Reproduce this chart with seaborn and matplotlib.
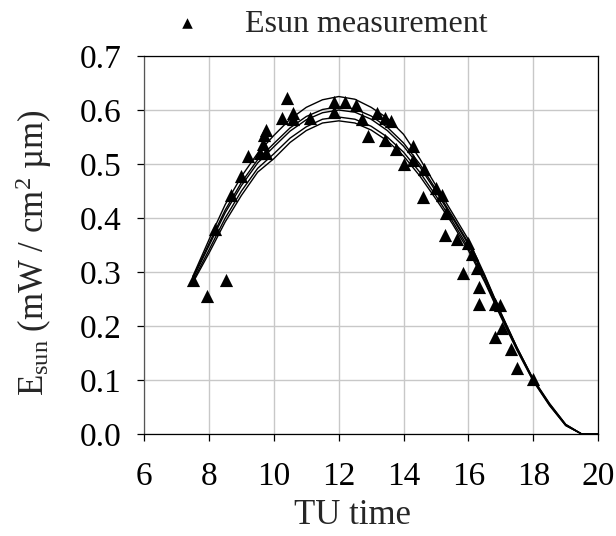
import pandas as pd
import seaborn as sns
import matplotlib.pyplot as plt

# model curves (half-hour steps, TU time)
hours = [7.5, 8, 8.5, 9, 9.5, 10, 10.5, 11, 11.5, 12, 12.5, 13, 13.5,
         14, 14.5, 15, 15.5, 16, 16.5, 17, 17.5, 18, 18.5, 19, 19.5, 20]
model_1 = [0.292, 0.360, 0.425, 0.477, 0.520, 0.553, 0.583, 0.605, 0.619, 0.625,
           0.620, 0.605, 0.585, 0.555, 0.510, 0.460, 0.410, 0.360, 0.295, 0.225,
           0.160, 0.102, 0.057, 0.018, 0.0, 0.0]
model_2 = [0.290, 0.353, 0.415, 0.466, 0.508, 0.538, 0.567, 0.588, 0.601, 0.606,
           0.602, 0.589, 0.568, 0.539, 0.500, 0.453, 0.404, 0.354, 0.293, 0.224,
           0.160, 0.101, 0.056, 0.018, 0.0, 0.0]
model_3 = [0.287, 0.349, 0.410, 0.460, 0.502, 0.532, 0.561, 0.582, 0.595, 0.600,
           0.596, 0.583, 0.562, 0.533, 0.495, 0.449, 0.401, 0.351, 0.290, 0.222,
           0.159, 0.100, 0.055, 0.017, 0.0, 0.0]
model_4 = [0.283, 0.341, 0.400, 0.450, 0.492, 0.519, 0.548, 0.569, 0.583, 0.587,
           0.583, 0.570, 0.550, 0.522, 0.485, 0.441, 0.395, 0.345, 0.285, 0.219,
           0.157, 0.099, 0.054, 0.016, 0.0, 0.0]
model_5 = [0.280, 0.335, 0.393, 0.442, 0.485, 0.510, 0.540, 0.562, 0.576, 0.580,
           0.576, 0.563, 0.543, 0.515, 0.478, 0.435, 0.390, 0.340, 0.282, 0.217,
           0.155, 0.098, 0.053, 0.016, 0.0, 0.0]

# Esun measurements
meas_time = [7.50, 7.93, 8.51, 8.19, 8.67, 9.00, 9.19, 9.58, 9.76, 9.68, 9.76, 9.70,
             10.42, 10.25, 10.60, 10.58, 11.10, 11.84, 11.84, 12.18, 12.54, 12.71,
             12.90, 13.17, 13.43, 13.61, 13.43, 13.77, 14.28, 14.00, 14.29, 14.63,
             14.61, 15.00, 15.18, 15.31, 15.28, 15.64, 16.00, 16.10, 15.83, 16.26,
             16.34, 16.34, 16.82, 16.96, 17.03, 16.82, 17.31, 17.51, 18.00]
meas_esun = [0.285, 0.256, 0.286, 0.379, 0.443, 0.477, 0.515, 0.520, 0.520, 0.538, 0.563, 0.554,
             0.622, 0.586, 0.595, 0.584, 0.586, 0.615, 0.597, 0.614, 0.609, 0.583,
             0.552, 0.595, 0.586, 0.579, 0.544, 0.527, 0.533, 0.501, 0.507, 0.490,
             0.439, 0.455, 0.443, 0.409, 0.369, 0.362, 0.354, 0.334, 0.299, 0.307,
             0.273, 0.241, 0.241, 0.239, 0.196, 0.179, 0.157, 0.123, 0.102]

models = pd.concat([
    pd.DataFrame({"time": hours, "esun": vals, "model": name})
    for name, vals in [("m1", model_1), ("m2", model_2), ("m3", model_3),
                       ("m4", model_4), ("m5", model_5)]
])
meas = pd.DataFrame({"time": meas_time, "esun": meas_esun})

sns.set_style("white")
plt.rcParams["font.family"] = ["Liberation Serif", "DejaVu Serif"]
plt.rcParams["mathtext.fontset"] = "custom"
plt.rcParams["mathtext.rm"] = "Liberation Serif"
plt.rcParams["mathtext.it"] = "Liberation Serif:italic"

fig = plt.figure(figsize=(6.16, 5.36), dpi=100)
ax = fig.add_axes([0.234, 0.19, 0.737, 0.7055])

sns.lineplot(data=models, x="time", y="esun", hue="model", units="model",
             estimator=None, palette=["black"] * 5, linewidth=1.0,
             legend=False, ax=ax, zorder=2)
sns.scatterplot(data=meas, x="time", y="esun", marker="^", color="black",
                s=90, linewidth=0, label="Esun measurement", ax=ax, zorder=3)

ax.set_xlim(6, 20)
ax.set_ylim(0, 0.7)
ax.set_xticks(range(6, 21, 2))
ax.set_yticks([i / 10 for i in range(8)])
ax.set_yticklabels([f"{i / 10:.1f}" for i in range(8)])
ax.grid(True, color="#c8c8c8", linewidth=1.0)
ax.set_axisbelow(True)

for side in ["top", "right", "bottom"]:
    ax.spines[side].set_color("black")
    ax.spines[side].set_linewidth(0.9)
ax.spines["left"].set_color("#555555")
ax.spines["left"].set_linewidth(0.9)

ax.tick_params(axis="both", direction="out", length=5, width=0.9,
               labelsize=24, colors="black", bottom=True, left=True)
ax.tick_params(axis="x", pad=15)
ax.tick_params(axis="y", pad=11)

ax.set_xlabel("TU time", fontsize=25, va="center")
ax.set_ylabel(r"E$_{\mathrm{sun}}$ (mW / cm$^{2}$ µm)", fontsize=25, va="center")
ax.xaxis.set_label_coords(0.46, -0.214)
ax.yaxis.set_label_coords(-0.244, 0.479)

ax.legend(loc="center", bbox_to_anchor=(0.39, 1.085), frameon=False,
          fontsize=23, markerscale=0.8, handletextpad=0.8, borderaxespad=0)

fig.savefig("out.png", dpi=100)
